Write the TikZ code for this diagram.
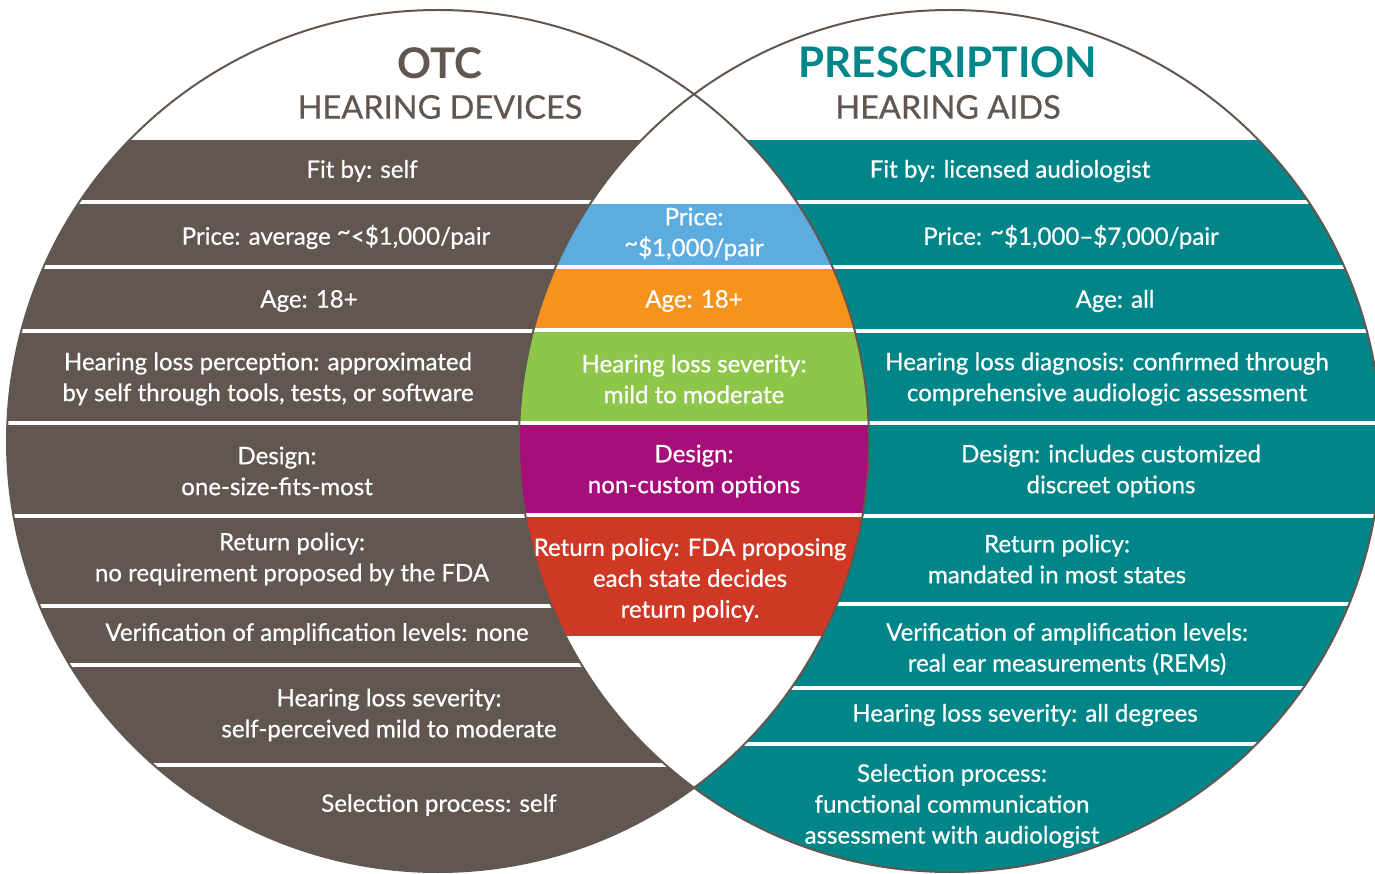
\documentclass[tikz,border=0pt]{standalone}
\usepackage{fontspec}
\setmainfont{Lato}
\newfontfamily\medfont{Lato}[FakeBold=0.6, Ligatures=TeX]
\usepackage{xcolor}
\usetikzlibrary{positioning}

\definecolor{otcbrown}{RGB}{98,86,80}
\definecolor{rxteal}{RGB}{0,134,137}
\definecolor{midblue}{RGB}{92,172,224}
\definecolor{midorange}{RGB}{246,146,30}
\definecolor{midgreen}{RGB}{142,198,74}
\definecolor{midpurple}{RGB}{166,14,122}
\definecolor{midred}{RGB}{208,56,38}

\newcommand{\tld}{\raisebox{0.4ex}{\textasciitilde}}

\begin{document}
\begin{tikzpicture}[x=0.02cm, y=-0.02cm,
  item/.style={text=white, align=center, inner sep=0pt,
    font=\medfont\fontsize{13.7}{17.6}\selectfont},
  sepline/.style={white, line width=0.07cm},
  heading/.style={inner sep=0pt, font=\fontsize{24}{28}\selectfont\bfseries},
  subheading/.style={inner sep=0pt, text=otcbrown, font=\medfont\fontsize{18.5}{20}\selectfont}]
\useasboundingbox (0,0) rectangle (1375,874);

% left circle (OTC)
\begin{scope}
  \clip (438,441) circle (431);
  \fill[otcbrown] (0,140) rectangle (900,900);
  \foreach \y in {202,267,331,423,516,606,665,765}
    \draw[sepline] (0,\y) -- (900,\y);
\end{scope}

% right circle (prescription)
\begin{scope}
  \clip (950,441) circle (431);
  \fill[white] (500,0) rectangle (1400,900);
  \fill[rxteal] (500,140) rectangle (1400,900);
  \foreach \y in {202,267,331,423,516,604,688,744}
    \draw[sepline] (500,\y) -- (1400,\y);
\end{scope}

% middle overlap
\begin{scope}
  \clip (438,441) circle (431);
  \clip (950,441) circle (431);
  \fill[white] (500,0) rectangle (900,900);
  \fill[midblue] (500,204) rectangle (900,267);
  \fill[midorange] (500,267) rectangle (900,330);
  \fill[midgreen] (500,330) rectangle (900,423);
  \fill[midpurple] (500,423) rectangle (900,515);
  \fill[midred] (500,515) rectangle (900,636);
  \foreach \y in {267,330,423,515}
    \draw[sepline] (500,\y) -- (900,\y);
\end{scope}

% outlines
\draw[otcbrown, line width=0.04cm] (438,441) circle (431);
\draw[otcbrown, line width=0.04cm] (950,441) circle (431);

% titles
\node[heading, text=otcbrown] (otc) at (440,63) {OTC};
\node[subheading] (otcsub) at (440,107) {HEARING DEVICES};
\node[heading, text=rxteal] (rx) at (948,62) {PRESCRIPTION};
\node[subheading] (rxsub) at (948,107) {HEARING AIDS};

% OTC items
\node[item] (lfit) at (362,171) {Fit by: self};
\node[item] (lprice) at (336,237) {Price: average \tld<\$1,000/pair};
\node[item] (lage) at (309,301) {Age: 18+};
\node[item] (lperc) at (268,379) {Hearing loss perception: approximated\\by self through tools, tests, or software};
\node[item] (ldesign) at (277,471) {Design:\\one-size-fits-most};
\node[item] (lreturn) at (292,559) {Return policy:\\no requirement proposed by the FDA};
\node[item] (lverif) at (317,634) {Verification of amplification levels: none};
\node[item] (lsev) at (389,715) {Hearing loss severity:\\self-perceived mild to moderate};
\node[item] (lsel) at (439,805) {Selection process: self};

% shared items
\node[item] (mprice) at (694,234) {Price:\\\tld\$1,000/pair};
\node[item] (mage) at (694,301) {Age: 18+};
\node[item] (msev) at (694,379) {Hearing loss severity:\\mild to moderate};
\node[item] (mdesign) at (694,471) {Design:\\non-custom options};
\node[item] (mreturn) at (690,580) {Return policy: FDA proposing\\each state decides\\return policy.};

% prescription items
\node[item] (rfit) at (1010,171) {Fit by: licensed audiologist};
\node[item] (rprice) at (1071,237) {Price: \tld\$1,000\textendash\$7,000/pair};
\node[item] (rage) at (1115,301) {Age: all};
\node[item] (rdiag) at (1107,379) {Hearing loss diagnosis: confirmed through\\comprehensive audiologic assessment};
\node[item] (rdesign) at (1111,471) {Design: includes customized\\discreet options};
\node[item] (rreturn) at (1057,559) {Return policy:\\mandated in most states};
\node[item] (rverif) at (1067,649) {Verification of amplification levels:\\real ear measurements (REMs)};
\node[item] (rsev) at (1025,715) {Hearing loss severity: all degrees};
\node[item] (rsel) at (952,806) {Selection process:\\functional communication\\assessment with audiologist};
\end{tikzpicture}
\end{document}
